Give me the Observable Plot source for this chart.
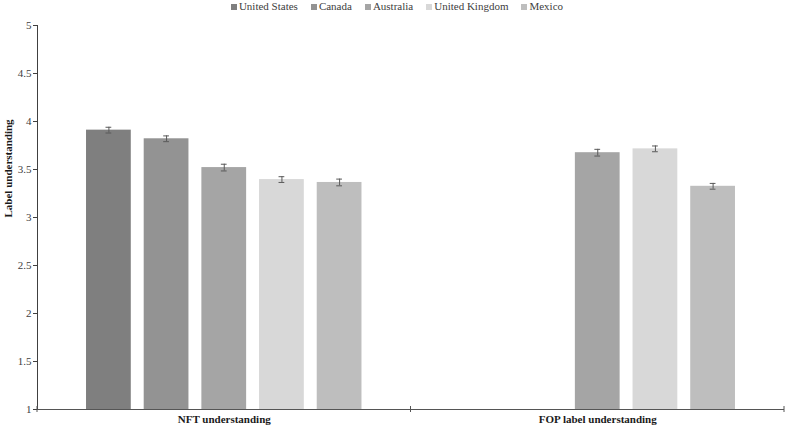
<!DOCTYPE html>
<html>
<head>
<meta charset="utf-8">
<script src="https://cdn.jsdelivr.net/npm/d3@7"></script>
<script src="https://cdn.jsdelivr.net/npm/@observablehq/plot@0.6"></script>
<style>
  html, body { margin: 0; padding: 0; background: #fff; }
  body { font-family: "Liberation Serif", "Times New Roman", serif; width: 794px; }
  #legend { font-family: "Liberation Serif", "Times New Roman", serif; display: flex; justify-content: center; gap: 13px; height: 13px; font-size: 11px; line-height: 13px; color: #404040; }
  #legend .item { display: flex; align-items: center; white-space: nowrap; }
  #legend .sw { width: 6px; height: 6px; margin-right: 2px; display: inline-block; }
  #chart svg { display: block; }
  #chart svg text { font-family: "Liberation Serif", "Times New Roman", serif; }
</style>
</head>
<body>
<div id="legend"></div>
<div id="chart"></div>
<script>
// ---- data ----
const groups = ["NFT understanding", "FOP label understanding"];
const countries = ["United States", "Canada", "Australia", "United Kingdom", "Mexico"];
const nftMeans = [3.91, 3.82, 3.52, 3.395, 3.365];
const nftErrors = [0.03, 0.03, 0.035, 0.03, 0.035];
const fopMeans = [null, null, 3.675, 3.715, 3.325];
const fopErrors = [null, null, 0.035, 0.03, 0.03];
const colors = ["#7f7f7f", "#939393", "#a5a5a5", "#d8d8d8", "#bebebe"];
const yTicks = [1, 1.5, 2, 2.5, 3, 3.5, 4, 4.5, 5];
const yTitle = "Label understanding";

// ---- table ----
const rows = [];
[[nftMeans, nftErrors], [fopMeans, fopErrors]].forEach(([means, errs], gi) => {
  countries.forEach((c, ci) => {
    if (means[ci] != null) rows.push({group: groups[gi], country: c, mean: means[ci], lo: means[ci] - errs[ci], hi: means[ci] + errs[ci]});
  });
});

// ---- legend ----
const legend = d3.select("#legend");
countries.forEach((c, i) => {
  const it = legend.append("span").attr("class", "item");
  it.append("span").attr("class", "sw").style("background", colors[i]);
  it.append("span").text(c);
});

// boundary ticks on the category axis (at each facet's edges)
function boundaryTicks(index, scales, values, dimensions) {
  const {marginLeft, marginRight, width} = dimensions;
  const y0 = scales.y(1);
  const g = d3.create("svg:g").attr("stroke", "#555").attr("stroke-width", 1);
  for (const x of [marginLeft, width - marginRight]) {
    g.append("line").attr("x1", x).attr("x2", x).attr("y1", y0 - 3).attr("y2", y0 + 3);
  }
  return g.node();
}

const serif = "'Liberation Serif', 'Times New Roman', serif";
const chart = Plot.plot({
  width: 794,
  height: 416,
  marginTop: 12,
  marginBottom: 20,
  marginLeft: 37,
  marginRight: 10,
  style: {fontFamily: serif, fontSize: "11px", color: "#404040", background: "#fff"},
  fx: {domain: groups, paddingInner: 0, paddingOuter: 0, round: false, axis: null, label: null},
  x: {domain: countries, paddingInner: 0.224, paddingOuter: 0.85, round: false, axis: null, label: null},
  y: {domain: [1, 5], ticks: yTicks, tickFormat: d => String(d), tickSize: 4, tickPadding: 2, line: true, label: null},
  color: {domain: countries, range: colors},
  marks: [
    Plot.barY(rows, {fx: "group", x: "country", y1: 1, y2: "mean", fill: "country"}),
    Plot.ruleX(rows, {fx: "group", x: "country", y1: "lo", y2: "hi", stroke: "#595959", strokeWidth: 1}),
    Plot.tickY(rows, {fx: "group", x: "country", y: "lo", stroke: "#595959", insetLeft: 19.5, insetRight: 19.5}),
    Plot.tickY(rows, {fx: "group", x: "country", y: "hi", stroke: "#595959", insetLeft: 19.5, insetRight: 19.5}),
    Plot.ruleY([1], {stroke: "#555"}),
    boundaryTicks,
    Plot.axisFx({anchor: "bottom", tickSize: 0, tickPadding: 6, fontWeight: "bold", fill: "#1a1a1a", fontFamily: serif, label: null}),
    Plot.text([{group: groups[0], t: yTitle}], {fx: "group", text: "t", frameAnchor: "left", rotate: -90, dx: -29, fontWeight: "bold", fontFamily: serif, fill: "#1a1a1a"})
  ]
});
document.getElementById("chart").appendChild(chart);
</script>
</body>
</html>
